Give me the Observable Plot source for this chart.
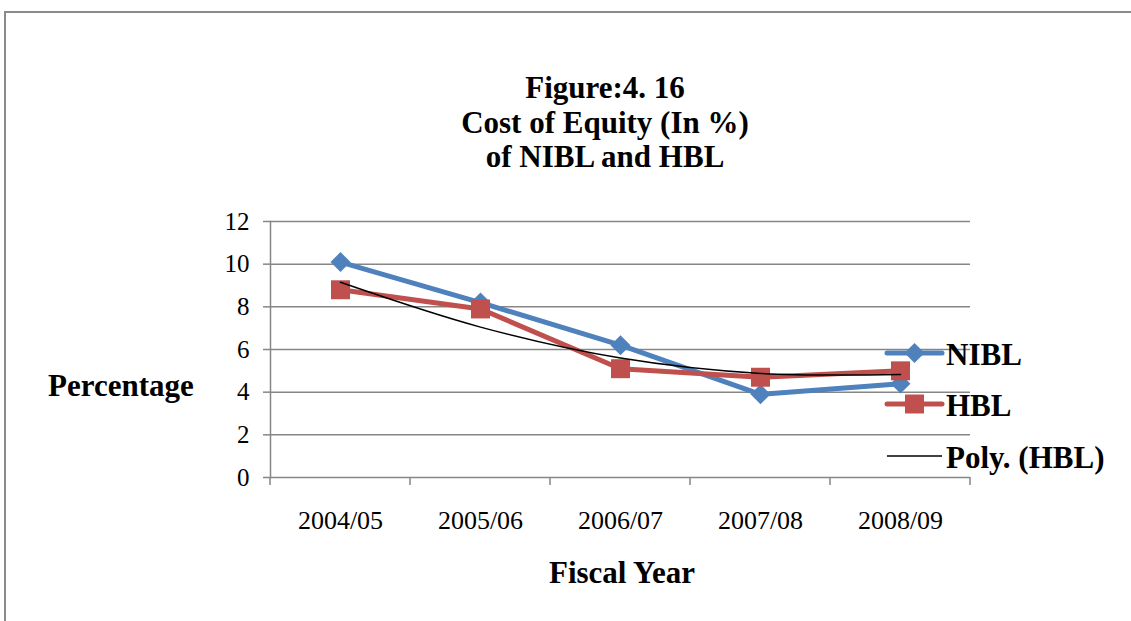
<!DOCTYPE html>
<html>
<head>
<meta charset="utf-8">
<script src="https://cdn.jsdelivr.net/npm/d3@7"></script>
<script src="https://cdn.jsdelivr.net/npm/@observablehq/plot@0.6"></script>
<style>
  html, body { margin: 0; padding: 0; background: #fff; overflow: hidden; }
  #wrap { position: relative; width: 1131px; height: 621px; overflow: hidden; background: #fff; }
  #border { position: absolute; left: 4px; top: 11px; width: 2000px; height: 2000px;
            border-left: 2px solid #8a8a8a; border-top: 2px solid #8a8a8a; }
  #chart { position: absolute; left: 0; top: 0; }
  #overlay { position: absolute; left: 0; top: 0; pointer-events: none; }
  #overlay text { font-family: "Liberation Serif", "Times New Roman", serif; font-weight: bold; fill: #000; }
</style>
</head>
<body>
<div id="wrap">
  <div id="border"></div>
  <div id="chart"></div>
  <svg id="overlay" width="1131" height="621">
    <text x="605" y="98" text-anchor="middle" font-size="31">Figure:4. 16</text>
    <text x="605" y="133" text-anchor="middle" font-size="31">Cost of Equity (In %)</text>
    <text x="605" y="167" text-anchor="middle" font-size="31">of NIBL and HBL</text>
    <text x="48" y="396" font-size="31">Percentage</text>
    <text x="622" y="583" text-anchor="middle" font-size="31">Fiscal Year</text>
    <g id="legend"></g>
  </svg>
</div>
<script>
// ---- data ----
const years = ["2004/05", "2005/06", "2006/07", "2007/08", "2008/09"];
const nibl = [10.1, 8.2, 6.2, 3.9, 4.4];
const hbl = [8.8, 7.9, 5.1, 4.7, 5.0];
const polyHbl = [9.15, 7.05, 5.6, 4.88, 4.83];
const yTicks = [0, 2, 4, 6, 8, 10, 12];
const seriesNames = ["NIBL", "HBL", "Poly. (HBL)"];

const niblData = years.map((year, i) => ({year, value: nibl[i]}));
const hblData = years.map((year, i) => ({year, value: hbl[i]}));
const polyData = years.map((year, i) => ({year, value: polyHbl[i]}));

const BLUE = "#4F81BD", RED = "#C0504D", GRID = "#868686";

// boundary ticks on the category axis (between the categories)
function xBoundaryTicks(index, scales, values, dims) {
  const x = scales.x;
  const step = x(years[1]) - x(years[0]);
  const bounds = years.map(d => x(d) - step / 2).concat([x(years[years.length - 1]) + step / 2]);
  const yb = dims.height - dims.marginBottom;
  const g = d3.create("svg:g");
  g.selectAll("line").data(bounds).join("line")
    .attr("x1", d => d).attr("x2", d => d)
    .attr("y1", yb).attr("y2", yb + 8)
    .attr("stroke", GRID).attr("stroke-width", 1.5);
  return g.node();
}

const chart = Plot.plot({
  width: 1131,
  height: 621,
  marginLeft: 270,
  marginRight: 161,
  marginTop: 221,
  marginBottom: 144,
  style: {fontFamily: "'Liberation Serif', 'Times New Roman', serif", color: "#000", background: "transparent"},
  x: {type: "point", domain: years, padding: 0.5},
  y: {domain: [0, 12]},
  marks: [
    Plot.gridY(yTicks.filter(d => d > 0), {stroke: GRID, strokeOpacity: 1, strokeWidth: 1.5}),
    Plot.ruleY([0], {stroke: GRID, strokeWidth: 1.5}),
    Plot.frame({anchor: "left", stroke: GRID, strokeWidth: 1.5}),
    Plot.axisY(yTicks, {tickSize: 7, tickPadding: 14, fontSize: 25, stroke: GRID, strokeWidth: 1.5, fill: "#000", label: null}),
    Plot.axisX({tickSize: 0, tickPadding: 33, fontSize: 26, fill: "#000", label: null}),
    xBoundaryTicks,
    Plot.line(niblData, {x: "year", y: "value", stroke: BLUE, strokeWidth: 5}),
    Plot.dot(niblData, {x: "year", y: "value", symbol: "diamond2", r: 9, fill: BLUE, stroke: null}),
    Plot.line(hblData, {x: "year", y: "value", stroke: RED, strokeWidth: 5}),
    Plot.dot(hblData, {x: "year", y: "value", symbol: "square", r: 10.7, fill: RED, stroke: null}),
    Plot.line(polyData, {x: "year", y: "value", stroke: "#000", strokeWidth: 1.5, curve: "catmull-rom"})
  ]
});
document.getElementById("chart").appendChild(chart);

// ---- legend (drawn over the plot area, as in the reference) ----
const lg = d3.select("#legend");
const items = [
  {name: seriesNames[0], color: BLUE, symbol: d3.symbolDiamond2, size: 9 * 9 * Math.PI, y: 353, lw: 5},
  {name: seriesNames[1], color: RED, symbol: d3.symbolSquare, size: 10.7 * 10.7 * Math.PI, y: 404, lw: 5},
  {name: seriesNames[2], color: "#000", symbol: null, y: 456, lw: 1.5}
];
items.forEach(it => {
  lg.append("line").attr("x1", 887).attr("x2", 942).attr("y1", it.y).attr("y2", it.y)
    .attr("stroke", it.color).attr("stroke-width", it.lw).attr("stroke-linecap", it.symbol ? "round" : "butt");
  if (it.symbol) {
    lg.append("path").attr("d", d3.symbol(it.symbol, it.size)())
      .attr("transform", `translate(914.5,${it.y})`).attr("fill", it.color);
  }
  lg.append("text").attr("x", 946).attr("y", it.y + 12).attr("font-size", 31).text(it.name);
});
</script>
</body>
</html>
